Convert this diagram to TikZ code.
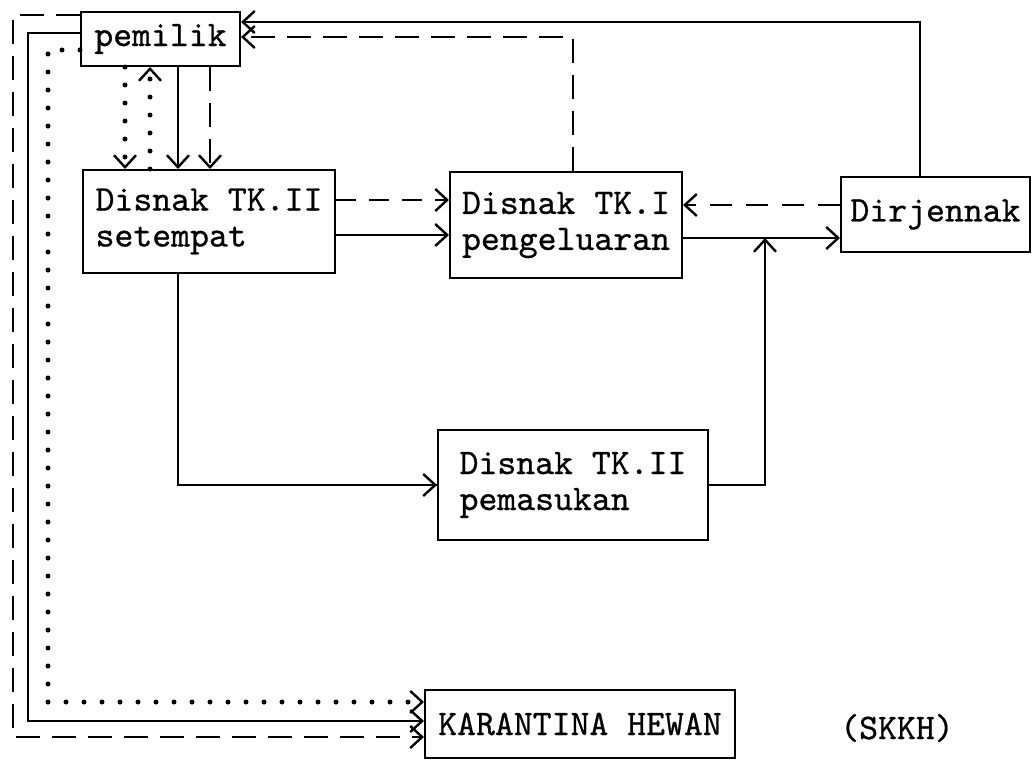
\documentclass[tikz,border=0pt]{standalone}
\usepackage{fontspec}
\newfontfamily\tw[FakeBold=0.7]{lmmono10-regular.otf}
\usetikzlibrary{arrows.meta}
\begin{document}
\begin{tikzpicture}[x=1pt,y=-1pt,
  box/.style={draw,line width=2pt,inner sep=0pt,align=left,
    font=\tw\fontsize{36}{36}\selectfont},
  lab/.style={inner sep=0pt,font=\tw\fontsize{36}{36}\selectfont},
  ln/.style={line width=2pt},
  arr/.style={-{Straight Barb[length=12pt,width=22pt,line width=2.4pt]}},
  dsh/.style={ln,dash pattern=on 24pt off 12pt},
  dts/.style={line width=5pt,line cap=round,dash pattern=on 0pt off 18pt}]
\useasboundingbox (0,0) rectangle (1036,760);
% boxes
\node[box,minimum width=159pt,minimum height=54pt] (pem) at (160.5,39) {pemilik};
\node[box,minimum width=252pt,minimum height=103pt] (set) at (209,221.5) {Disnak TK.II\\setempat};
\node[box,minimum width=232pt,minimum height=106pt] (tk1) at (566,225) {Disnak TK.I\\pengeluaran};
\node[box,minimum width=189pt,minimum height=75pt] (dir) at (935.5,214.5) {Dirjennak};
\node[box,minimum width=270pt,minimum height=110pt] (pms) at (573,485) {Disnak TK.II\\pemasukan};
\node[box,minimum width=310pt,minimum height=68pt] (kar) at (580,724) {KARANTINA HEWAN};
\node[lab] (skkh) at (897,728) {(SKKH)};
% lane coordinates
\coordinate (c1) at (125,0);
\coordinate (c2) at (150,0);
\coordinate (c3) at (178,0);
\coordinate (c4) at (210,0);
\coordinate (h1) at (0,200);
\coordinate (h2) at (0,235);
\coordinate (h3) at (0,205);
\coordinate (h4) at (0,238);
\coordinate (j) at (765,238);
\coordinate (t1) at (920,22);
\coordinate (t2) at (573,37);
\coordinate (L1) at (13,15);
\coordinate (L1b) at (13,737);
\coordinate (L2) at (28,33);
\coordinate (L2b) at (28,721);
\coordinate (L3) at (48,50);
\coordinate (L3b) at (48,702);
% pemilik <-> setempat
\draw[dts,arr] (c1 |- pem.south) -- (c1 |- set.north);
\draw[dts,arr] (c2 |- set.north) -- (c2 |- pem.south);
\draw[ln,arr] (c3 |- pem.south) -- (c3 |- set.north);
\draw[dsh,arr] (c4 |- pem.south) -- (c4 |- set.north);
% setempat -> TK.I
\draw[ln,arr,dash pattern=on 20pt off 13pt] (set.east |- h1) -- (tk1.west |- h1);
\draw[ln,arr] (set.east |- h2) -- (tk1.west |- h2);
% Dirjennak <-> TK.I
\draw[ln,arr,dash pattern=on 22pt off 14pt] (dir.west |- h3) -- (tk1.east |- h3);
\draw[ln,arr] (tk1.east |- h4) -- (dir.west |- h4);
% pemasukan
\draw[ln] (c3 |- set.south) |- (pms.west);
\draw[ln,arr] (c3 |- pms.west) -- (pms.west);
\draw[ln,arr] (pms.east) -| (j);
% top returns
\draw[ln,arr] (t1 |- dir.north) -- (t1) -- (pem.east |- t1);
\draw[dsh,arr] (t2 |- tk1.north) -- (t2) -- (pem.east |- t2);
% left lines to karantina
\draw[dsh,arr] (pem.west |- L1) -- (L1) -- (L1b) -- (kar.west |- L1b);
\draw[ln,arr] (pem.west |- L2) -- (L2) -- (L2b) -- (kar.west |- L2b);
\draw[dts,arr] (pem.west |- L3) -- (L3) -- (L3b) -- (kar.west |- L3b);
\end{tikzpicture}
\end{document}
